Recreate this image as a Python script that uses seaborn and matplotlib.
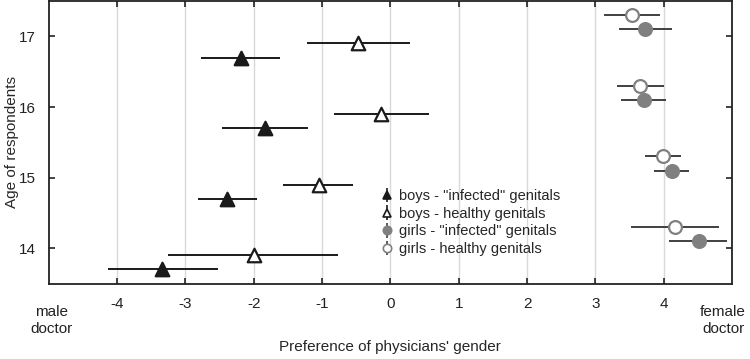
import numpy as np
import pandas as pd
import seaborn as sns
import matplotlib.pyplot as plt

ages = [14, 15, 16, 17]

# mean preference and interval ends, per group (ages 14..17)
boys_inf = [-3.34, -2.39, -1.84, -2.19]
boys_inf_lo = [-4.14, -2.81, -2.47, -2.77]
boys_inf_hi = [-2.52, -1.95, -1.21, -1.61]

boys_hea = [-2.00, -1.05, -0.13, -0.47]
boys_hea_lo = [-3.25, -1.57, -0.83, -1.22]
boys_hea_hi = [-0.76, -0.54, 0.57, 0.28]

girls_inf = [4.51, 4.12, 3.71, 3.73]
girls_inf_lo = [4.08, 3.86, 3.38, 3.35]
girls_inf_hi = [4.92, 4.37, 4.04, 4.12]

girls_hea = [4.17, 3.99, 3.66, 3.53]
girls_hea_lo = [3.52, 3.72, 3.31, 3.12]
girls_hea_hi = [4.81, 4.26, 4.00, 3.94]

labels = ['boys - "infected" genitals', 'boys - healthy genitals',
          'girls - "infected" genitals', 'girls - healthy genitals']

sns.set_style("white")
plt.rcParams['font.family'] = ['Liberation Sans', 'DejaVu Sans']

fig = plt.figure(figsize=(7.5, 3.59), dpi=100)
ax = fig.add_axes([0.065, 0.21, 0.911, 0.787])

series = [
    (boys_inf, boys_inf_lo, boys_inf_hi, -0.3, '^', '#1a1a1a', '#1a1a1a', '#1a1a1a'),
    (boys_hea, boys_hea_lo, boys_hea_hi, -0.1, '^', 'white', '#1a1a1a', '#1a1a1a'),
    (girls_inf, girls_inf_lo, girls_inf_hi, 0.1, 'o', '#808080', '#808080', '#404040'),
    (girls_hea, girls_hea_lo, girls_hea_hi, 0.3, 'o', 'white', '#808080', '#404040'),
]

handles = []
for (vals, lo, hi, off, mk, fc, ec, lc), lab in zip(series, labels):
    y = np.array(ages) + off
    ax.hlines(y, lo, hi, color=lc, lw=1.4, zorder=2)
    size = 95 if mk == '^' else 85
    sns.scatterplot(x=vals, y=y, marker=mk, s=size, color=fc, edgecolor=ec,
                    linewidth=1.6, zorder=3, ax=ax, legend=False)
    h = ax.errorbar([np.nan], [np.nan], yerr=[1], fmt=mk, ms=6, mfc=fc, mec=ec,
                    mew=1.2, ecolor=lc, elinewidth=1.2, label=lab)
    handles.append(h)

ax.set_xlim(-5, 5)
ax.set_ylim(13.5, 17.5)
ax.set_xticks(range(-4, 5))
ax.set_xticklabels([str(v) for v in range(-4, 5)])
ax.set_yticks(ages)
ax.xaxis.grid(True, color='#d9d9d9', lw=1)
ax.yaxis.grid(False)
for s in ax.spines.values():
    s.set_color('#222222')
    s.set_linewidth(1.3)
ax.tick_params(axis='both', direction='in', length=4, width=1.2, colors='#222222',
               labelsize=11, top=True, right=True, left=True, bottom=True)
ax.tick_params(axis='x', pad=10)
ax.tick_params(axis='y', pad=9)

ax.text(-4.96, 13.2, 'male\ndoctor', ha='center', va='top', fontsize=11,
        color='#222222', linespacing=1.25, clip_on=False)
ax.text(4.87, 13.2, 'female\ndoctor', ha='center', va='top', fontsize=11,
        color='#222222', linespacing=1.25, clip_on=False)

ax.set_xlabel("Preference of physicians' gender", fontsize=11)
ax.xaxis.set_label_coords(0.5, -0.2)
ax.set_ylabel('Age of respondents', fontsize=11)
ax.yaxis.set_label_coords(-0.044, 0.5)

ax.legend(handles=handles, loc='upper left', bbox_to_anchor=(0.48, 0.355),
          frameon=False, fontsize=10.5, handlelength=0.6, handletextpad=0.5,
          labelspacing=0.25, borderaxespad=0)

fig.savefig('out.png', dpi=100)
